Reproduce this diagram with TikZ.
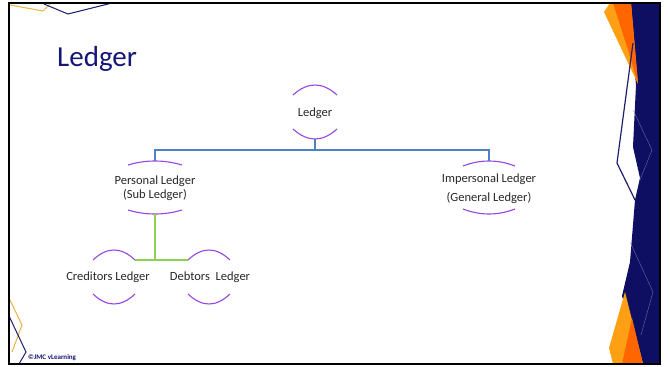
\documentclass[tikz,border=0pt]{standalone}
\usepackage{fontspec}
\setmainfont{Carlito}
\usetikzlibrary{calc}
\definecolor{navyband}{RGB}{14,14,98}
\definecolor{navyline}{RGB}{30,30,110}
\definecolor{titleblue}{RGB}{22,22,120}
\definecolor{orangedark}{RGB}{255,102,0}
\definecolor{orangelight}{RGB}{255,160,20}
\definecolor{goldline}{RGB}{238,180,60}
\definecolor{capviolet}{RGB}{150,70,225}
\definecolor{busblue}{RGB}{75,130,195}
\definecolor{busgreen}{RGB}{140,210,80}
\definecolor{textgray}{RGB}{40,40,40}
\tikzset{
  capframe/.style={draw=none, inner sep=0pt, outer sep=0pt},
  capline/.style={draw=capviolet, line width=1.1pt},
  lbl/.style={text=textgray, font=\fontsize{12.5}{14}\selectfont, align=center, inner sep=0pt},
  bluebus/.style={draw=busblue, line width=1.1pt},
  greenbus/.style={draw=busgreen, line width=1.1pt},
}
% two violet caps (top and bottom) over the named frame node; #2 = sag in pt
\newcommand\drawledgercaps[2]{%
  \draw[capline] ($(#1.north west)+(0,#2)$)
    .. controls ($(#1.north west)!1/3!(#1.north east)+(0,-#2/3)$)
    and ($(#1.north west)!2/3!(#1.north east)+(0,-#2/3)$) .. ($(#1.north east)+(0,#2)$);
  \draw[capline] ($(#1.south west)+(0,-#2)$)
    .. controls ($(#1.south west)!1/3!(#1.south east)+(0,#2/3)$)
    and ($(#1.south west)!2/3!(#1.south east)+(0,#2/3)$) .. ($(#1.south east)+(0,-#2)$);
}
\begin{document}
\begin{tikzpicture}[x=1pt,y=-1pt]
\useasboundingbox (0,0) rectangle (670,367);
\fill[white] (0,0) rectangle (670,367);

% right-hand decorative band
\fill[navyband] (628,3) -- (660,3) -- (660,364) -- (643,364) -- (622,296)
  -- (630,262) -- (635,200) -- (640,178) -- (633,147) -- (636,85) -- cycle;
\draw[white!55!navyband, line width=0.5pt, opacity=0.6]
  (633,110) -- (652,150) -- (640,180);
\draw[white!55!navyband, line width=0.5pt, opacity=0.6]
  (630,242) -- (653,292) -- (641,335);
\fill[orangelight] (604,12) -- (610,3) -- (631,3) -- (638,84) -- cycle;
\fill[orangedark] (613,3) -- (631,3) -- (638,84) -- (628,50) -- cycle;
\fill[orangelight] (625,292) -- (609,348) -- (613,364) -- (643,364) -- cycle;
\fill[orangedark] (632,318) -- (622,364) -- (643,364) -- cycle;
\draw[navyline, line width=1.2pt, line join=miter] (633,43) -- (617,163) -- (635,200);

% corner strokes on the left
\draw[goldline, line width=1pt] (10,5) -- (43,11) -- (50,4);
\draw[navyline, line width=1pt] (44,4) -- (68,14) -- (112,3);
\draw[goldline, line width=1pt] (9,298) -- (22,325) -- (12,352);
\draw[navyline, line width=1pt] (9,316) -- (26,352) -- (19,364);

% slide frame
\draw[black, line width=2pt] (8.5,3) rectangle (660,364);

% title and footer
\node[anchor=base west, text=titleblue, font=\fontsize{29}{32}\selectfont, inner sep=0pt]
  (title) at (57,66) {Ledger};
\node[anchor=base west, text=titleblue, font=\fontsize{7}{8}\selectfont\bfseries, inner sep=0pt]
  (footer) at (28,359) {©JMC vLearning};

% frames carrying the violet caps
\node[capframe, minimum width=44pt, minimum height=54pt] (lf) at (315,112) {};
\node[capframe, minimum width=54pt, minimum height=53pt] (pf) at (155,187.5) {};
\node[capframe, minimum width=52pt, minimum height=53pt] (imf) at (489,187.5) {};
\node[capframe, minimum width=42pt, minimum height=54pt] (cf) at (114,277) {};
\node[capframe, minimum width=42pt, minimum height=54pt] (df) at (209,277) {};
\drawledgercaps{lf}{10}
\drawledgercaps{pf}{4}
\drawledgercaps{imf}{5}
\drawledgercaps{cf}{10}
\drawledgercaps{df}{10}

% labels
\node[lbl] (lt) at (315,113) {Ledger};
\node[lbl] (pt) at (155,188) {Personal Ledger\\(Sub Ledger)};
\node[lbl] (imt) at (489,189) {Impersonal Ledger\\[5pt](General Ledger)};
\node[lbl] (ct) at (108,277) {Creditors Ledger};
\node[lbl] (dt) at (210,277) {Debtors~ Ledger};

% connectors
\coordinate (topbus) at (315,150);
\draw[bluebus] (lf.south) -- (topbus);
\draw[bluebus] (pf.north) |- (topbus) -| (imf.north);
\coordinate (lowbus) at (155,260);
\draw[greenbus] (pf.south) -- (lowbus);
\draw[greenbus] ($(cf.north east)+(0,10)$) -- ($(df.north west)+(0,10)$);
\end{tikzpicture}
\end{document}
